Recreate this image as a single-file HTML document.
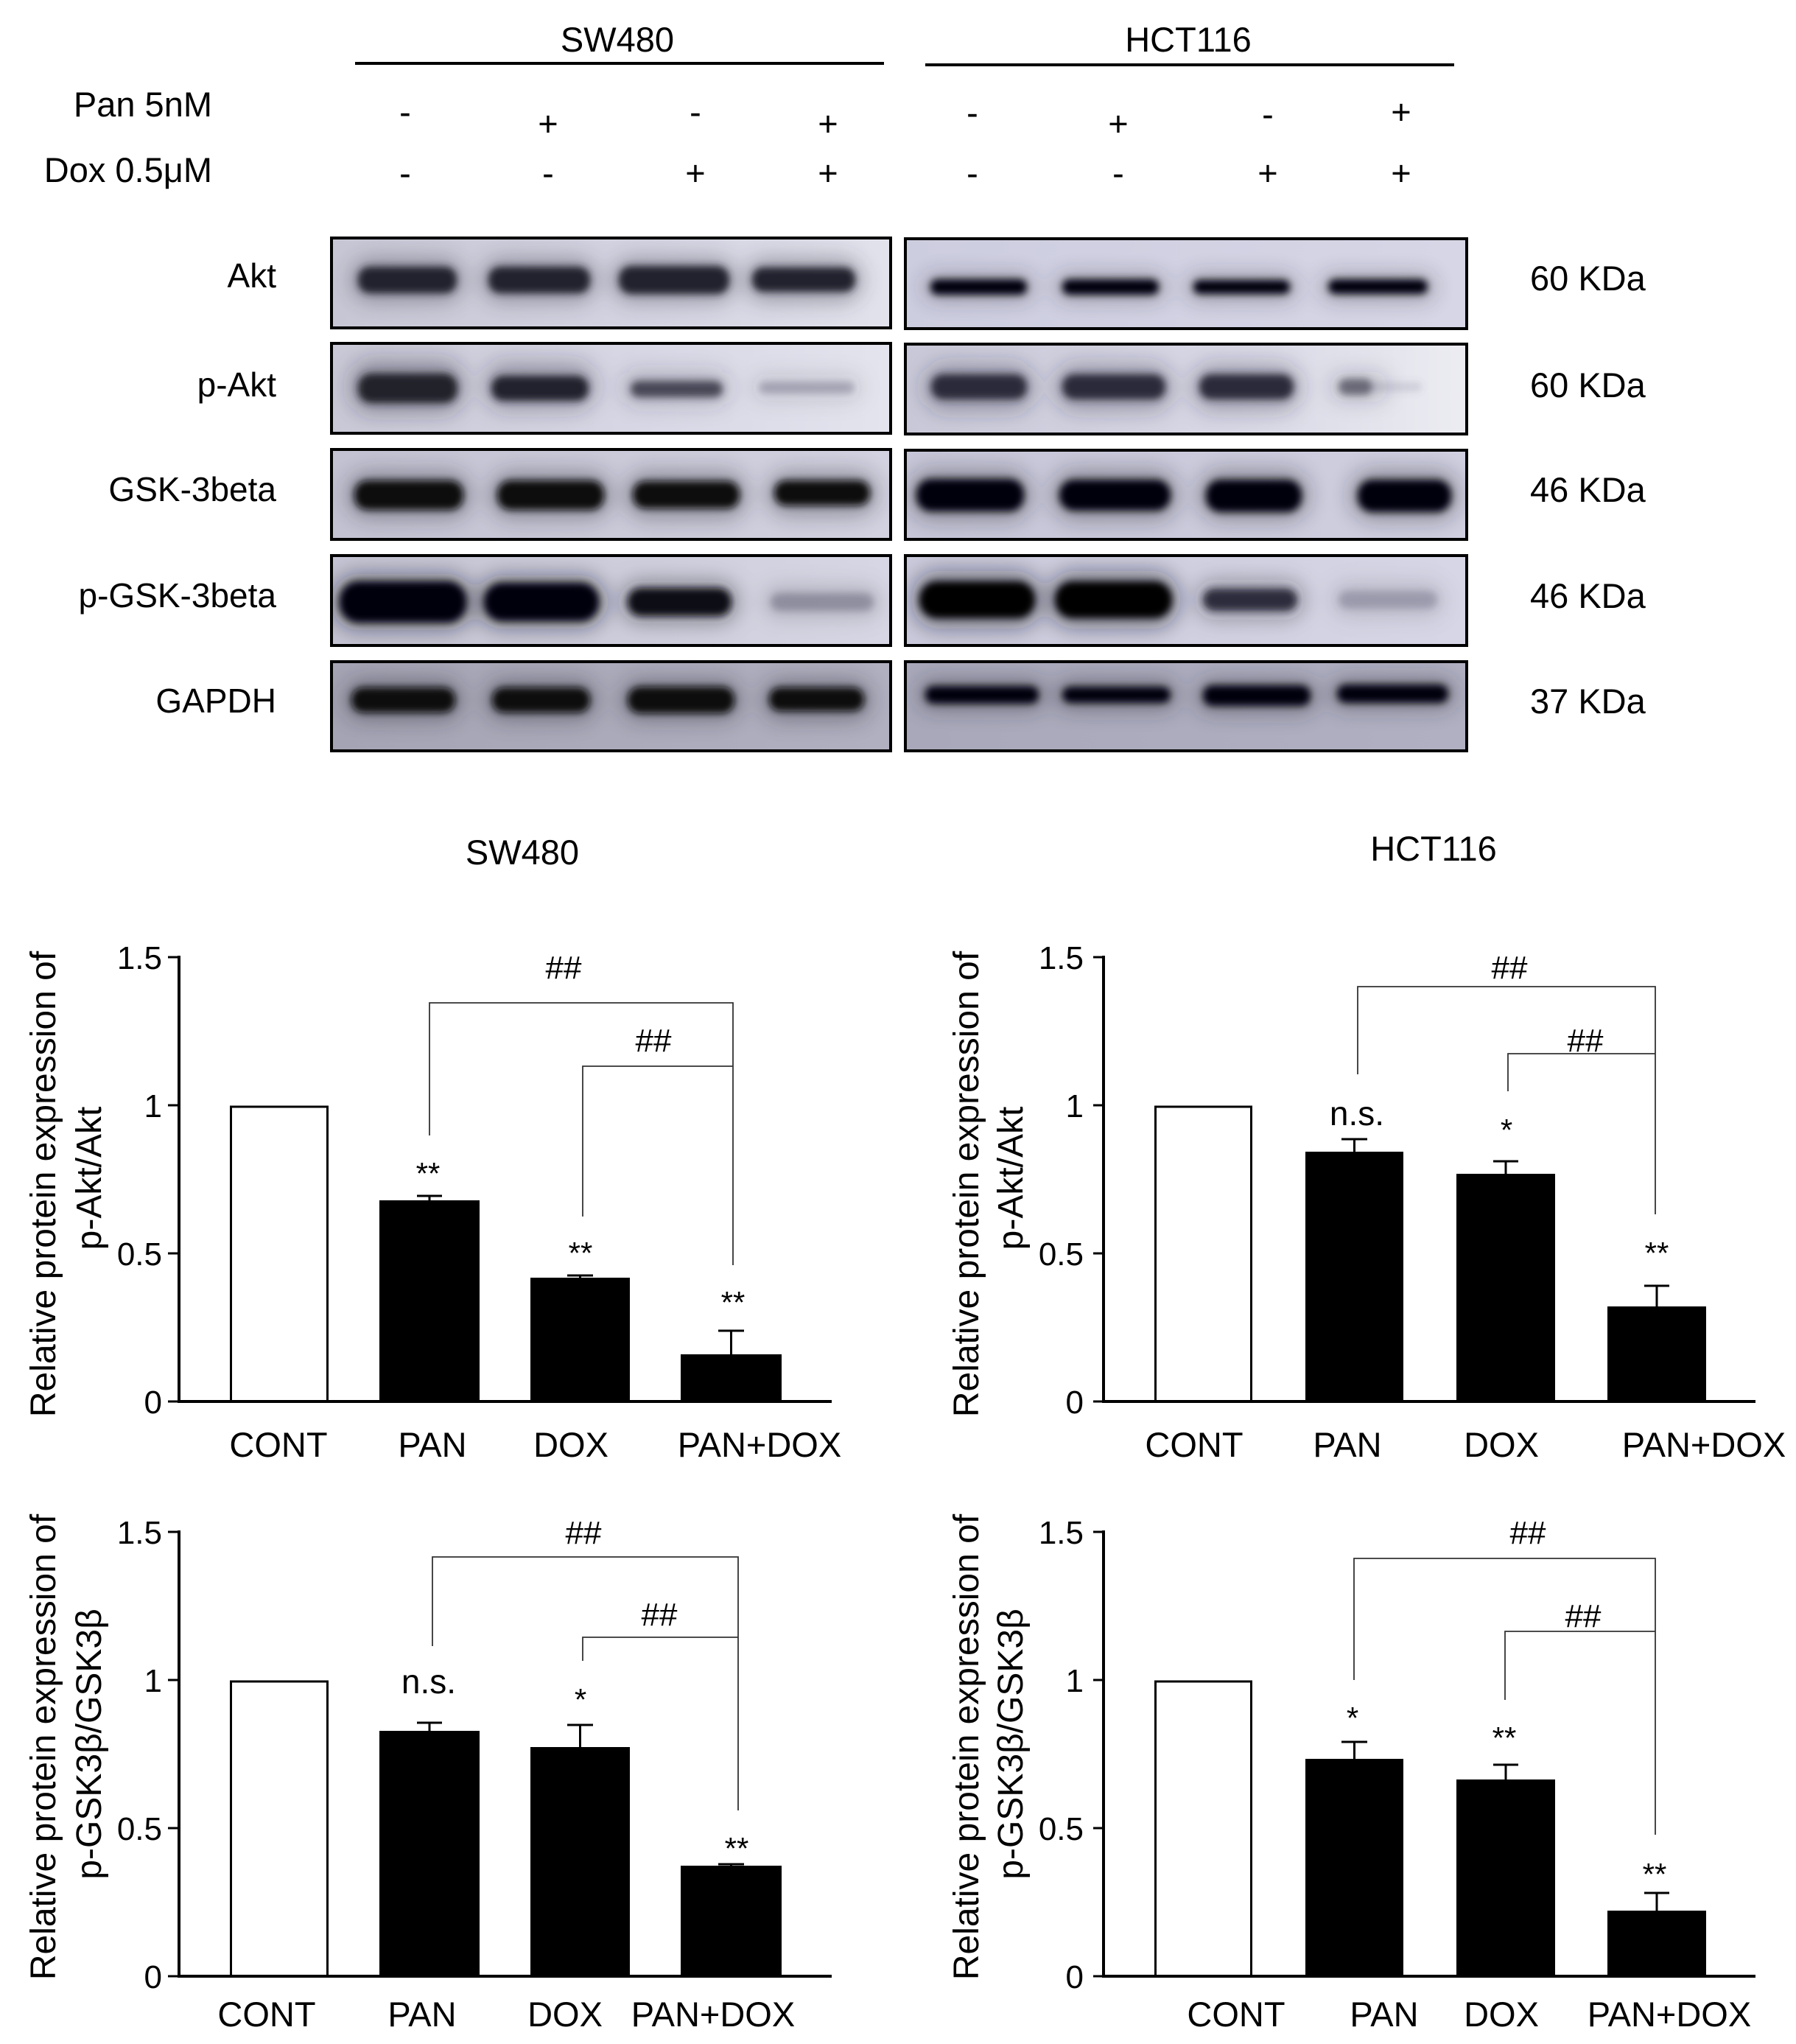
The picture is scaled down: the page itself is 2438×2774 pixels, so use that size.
<!DOCTYPE html>
<html><head><meta charset="utf-8"><style>
html,body{margin:0;padding:0;background:#fff;}
svg{display:block;}
text{font-family:"Liberation Sans",Arial,sans-serif;fill:#000;}
</style></head><body>
<svg width="2438" height="2774" viewBox="0 0 2438 2774" xmlns="http://www.w3.org/2000/svg">
<defs>
<filter id="b1" x="-30%" y="-100%" width="160%" height="300%"><feGaussianBlur stdDeviation="5"/></filter>
<filter id="b2" x="-40%" y="-150%" width="180%" height="400%"><feGaussianBlur stdDeviation="14"/></filter>
<linearGradient id="g1" x1="0" x2="1" y1="0" y2="0"><stop offset="0" stop-color="#c6c6d4"/><stop offset="0.6" stop-color="#d4d4e2"/><stop offset="1" stop-color="#e2e2ec"/></linearGradient>
<linearGradient id="g2" x1="0" x2="1" y1="0" y2="0"><stop offset="0" stop-color="#c8c8d6"/><stop offset="0.6" stop-color="#d8d8e6"/><stop offset="1" stop-color="#e4e4ee"/></linearGradient>
<linearGradient id="g3" x1="0" x2="1" y1="0" y2="0"><stop offset="0" stop-color="#c2c2d2"/><stop offset="1" stop-color="#d2d2e0"/></linearGradient>
<linearGradient id="g4" x1="0" x2="1" y1="0" y2="0"><stop offset="0" stop-color="#c4c4d4"/><stop offset="1" stop-color="#d6d6e4"/></linearGradient>
<linearGradient id="g5" x1="0" x2="1" y1="0" y2="0"><stop offset="0" stop-color="#a4a4b4"/><stop offset="1" stop-color="#b0b0c0"/></linearGradient>
<linearGradient id="h1" x1="0" x2="1" y1="0" y2="0"><stop offset="0" stop-color="#cdcde0"/><stop offset="1" stop-color="#d6d6e6"/></linearGradient>
<linearGradient id="h2" x1="0" x2="1" y1="0" y2="0"><stop offset="0" stop-color="#c8c8d8"/><stop offset="0.6" stop-color="#d8d8e6"/><stop offset="1" stop-color="#ececf2"/></linearGradient>
<linearGradient id="h3" x1="0" x2="1" y1="0" y2="0"><stop offset="0" stop-color="#c6c6d8"/><stop offset="1" stop-color="#cfcfe0"/></linearGradient>
<linearGradient id="h4" x1="0" x2="1" y1="0" y2="0"><stop offset="0" stop-color="#cacadc"/><stop offset="1" stop-color="#d6d6e6"/></linearGradient>
<linearGradient id="h5" x1="0" x2="1" y1="0" y2="0"><stop offset="0" stop-color="#a8a8ba"/><stop offset="1" stop-color="#b0b0c2"/></linearGradient>
<clipPath id="cs1"><rect x="450" y="323" width="759" height="122"/></clipPath>
<clipPath id="cs2"><rect x="450" y="466" width="759" height="122"/></clipPath>
<clipPath id="cs3"><rect x="450" y="610" width="759" height="122"/></clipPath>
<clipPath id="cs4"><rect x="450" y="754" width="759" height="122"/></clipPath>
<clipPath id="cs5"><rect x="450" y="898" width="759" height="121"/></clipPath>
<clipPath id="ch1"><rect x="1229" y="324" width="762" height="122"/></clipPath>
<clipPath id="ch2"><rect x="1229" y="467" width="762" height="122"/></clipPath>
<clipPath id="ch3"><rect x="1229" y="611" width="762" height="121"/></clipPath>
<clipPath id="ch4"><rect x="1229" y="754" width="762" height="122"/></clipPath>
<clipPath id="ch5"><rect x="1229" y="898" width="762" height="121"/></clipPath>
</defs>

<!-- Header -->
<text x="838" y="70" font-size="47" text-anchor="middle">SW480</text>
<line x1="482" y1="86" x2="1200" y2="86" stroke="#000" stroke-width="4"/>
<text x="1613" y="70" font-size="47" text-anchor="middle">HCT116</text>
<line x1="1256" y1="88" x2="1974" y2="88" stroke="#000" stroke-width="4"/>

<text x="288" y="158" font-size="47" text-anchor="end">Pan 5nM</text>
<text x="288" y="247" font-size="47" text-anchor="end">Dox 0.5μM</text>

<g font-size="47" text-anchor="middle">
<text x="550" y="168">-</text>
<text x="744" y="184">+</text>
<text x="944" y="168">-</text>
<text x="1124" y="184">+</text>
<text x="1320" y="169">-</text>
<text x="1518" y="184">+</text>
<text x="1721" y="171">-</text>
<text x="1902" y="168">+</text>
<text x="550" y="251">-</text>
<text x="744" y="251">-</text>
<text x="944" y="251">+</text>
<text x="1124" y="251">+</text>
<text x="1320" y="251">-</text>
<text x="1518" y="251">-</text>
<text x="1721" y="251">+</text>
<text x="1902" y="251">+</text>
</g>

<!-- Row labels -->
<g font-size="46" text-anchor="end">
<text x="375" y="390">Akt</text>
<text x="375" y="538">p-Akt</text>
<text x="375" y="680">GSK-3beta</text>
<text x="375" y="824">p-GSK-3beta</text>
<text x="375" y="967">GAPDH</text>
</g>
<g font-size="47">
<text x="2077" y="394">60 KDa</text>
<text x="2077" y="539">60 KDa</text>
<text x="2077" y="681">46 KDa</text>
<text x="2077" y="825">46 KDa</text>
<text x="2077" y="968">37 KDa</text>
</g>

<!-- SW480 blots -->
<g clip-path="url(#cs1)">
<rect x="450" y="323" width="759" height="122" fill="url(#g1)"/>
<g fill="#2a2a38" opacity="0.35" filter="url(#b2)">
<rect x="476" y="350" width="154" height="60" rx="30"/><rect x="653" y="350" width="158" height="60" rx="30"/><rect x="830" y="350" width="170" height="60" rx="30"/><rect x="1011" y="350" width="160" height="60" rx="30"/>
</g>
<g fill="#23232d" filter="url(#b1)">
<rect x="486" y="362" width="134" height="36" rx="16"/><rect x="663" y="362" width="138" height="36" rx="16"/><rect x="840" y="361" width="150" height="38" rx="17"/><rect x="1021" y="363" width="140" height="33" rx="15"/>
</g>
</g>
<rect x="450" y="323" width="759" height="122" fill="none" stroke="#000" stroke-width="4"/>

<g clip-path="url(#cs2)">
<rect x="450" y="466" width="759" height="122" fill="url(#g2)"/>
<g fill="#2a2a38" filter="url(#b2)">
<rect x="476" y="490" width="154" height="70" rx="30" opacity="0.4"/><rect x="657" y="492" width="152" height="64" rx="30" opacity="0.35"/><rect x="845" y="505" width="145" height="44" rx="20" opacity="0.25"/><rect x="1020" y="508" width="150" height="36" rx="18" opacity="0.12"/>
</g>
<g filter="url(#b1)">
<rect x="486" y="507" width="135" height="40" rx="18" fill="#22222c"/><rect x="667" y="510" width="132" height="34" rx="16" fill="#23232e"/><rect x="856" y="517" width="125" height="22" rx="11" fill="#2c2c3c" opacity="0.8"/><rect x="1030" y="518" width="130" height="16" rx="8" fill="#50506a" opacity="0.35"/>
</g>
</g>
<rect x="450" y="466" width="759" height="122" fill="none" stroke="#000" stroke-width="4"/>

<g clip-path="url(#cs3)">
<rect x="450" y="610" width="759" height="122" fill="url(#g3)"/>
<g fill="#1a1a28" opacity="0.35" filter="url(#b2)">
<rect x="471" y="640" width="168" height="64" rx="30"/><rect x="665" y="640" width="165" height="64" rx="30"/><rect x="849" y="640" width="165" height="64" rx="30"/><rect x="1041" y="640" width="150" height="60" rx="30"/>
</g>
<g fill="#080810" filter="url(#b1)">
<rect x="481" y="652" width="148" height="40" rx="18"/><rect x="675" y="652" width="145" height="40" rx="18"/><rect x="859" y="653" width="145" height="37" rx="17"/><rect x="1051" y="652" width="130" height="34" rx="16"/>
</g>
</g>
<rect x="450" y="610" width="759" height="122" fill="none" stroke="#000" stroke-width="4"/>

<g clip-path="url(#cs4)">
<rect x="450" y="754" width="759" height="122" fill="url(#g4)"/>
<g fill="#14141e" filter="url(#b2)">
<rect x="451" y="779" width="192" height="76" rx="36" opacity="0.45"/><rect x="647" y="781" width="176" height="72" rx="34" opacity="0.45"/><rect x="842" y="788" width="160" height="58" rx="28" opacity="0.35"/><rect x="1036" y="795" width="160" height="44" rx="22" opacity="0.15"/>
</g>
<g filter="url(#b1)">
<rect x="461" y="789" width="172" height="56" rx="26" fill="#050508"/><rect x="657" y="791" width="156" height="52" rx="25" fill="#050508"/><rect x="852" y="798" width="141" height="38" rx="18" fill="#0c0c16"/><rect x="1046" y="805" width="140" height="24" rx="12" fill="#5a5a72" opacity="0.45"/>
</g>
</g>
<rect x="450" y="754" width="759" height="122" fill="none" stroke="#000" stroke-width="4"/>

<g clip-path="url(#cs5)">
<rect x="450" y="898" width="759" height="121" fill="url(#g5)"/>
<g fill="#1a1a26" opacity="0.35" filter="url(#b2)">
<rect x="467" y="922" width="161" height="56" rx="28"/><rect x="658" y="922" width="153" height="56" rx="28"/><rect x="842" y="922" width="165" height="56" rx="28"/><rect x="1034" y="922" width="149" height="56" rx="28"/>
</g>
<g fill="#08080e" filter="url(#b1)">
<rect x="477" y="933" width="141" height="34" rx="16"/><rect x="668" y="933" width="133" height="34" rx="16"/><rect x="852" y="932" width="145" height="36" rx="17"/><rect x="1044" y="933" width="129" height="32" rx="15"/>
</g>
</g>
<rect x="450" y="898" width="759" height="121" fill="none" stroke="#000" stroke-width="4"/>

<!-- HCT116 blots -->
<g clip-path="url(#ch1)">
<rect x="1229" y="324" width="762" height="122" fill="url(#h1)"/>
<g fill="#1a1a28" opacity="0.3" filter="url(#b2)">
<rect x="1253" y="372" width="151" height="36" rx="18"/><rect x="1432" y="372" width="151" height="36" rx="18"/><rect x="1610" y="372" width="151" height="36" rx="18"/><rect x="1793" y="372" width="155" height="36" rx="18"/>
</g>
<g fill="#06060c" filter="url(#b1)">
<rect x="1263" y="379" width="131" height="21" rx="10"/><rect x="1442" y="379" width="131" height="21" rx="10"/><rect x="1620" y="380" width="131" height="19" rx="9"/><rect x="1803" y="379" width="135" height="20" rx="10"/>
</g>
</g>
<rect x="1229" y="324" width="762" height="122" fill="none" stroke="#000" stroke-width="4"/>

<g clip-path="url(#ch2)">
<rect x="1229" y="467" width="762" height="122" fill="url(#h2)"/>
<g fill="#2a2a38" filter="url(#b2)">
<rect x="1254" y="495" width="150" height="62" rx="30" opacity="0.35"/><rect x="1432" y="495" width="160" height="62" rx="30" opacity="0.35"/><rect x="1618" y="495" width="148" height="62" rx="30" opacity="0.35"/><rect x="1805" y="505" width="80" height="40" rx="20" opacity="0.2"/>
</g>
<g filter="url(#b1)">
<rect x="1264" y="508" width="130" height="34" rx="16" fill="#2c2c3a"/><rect x="1442" y="508" width="140" height="34" rx="16" fill="#2c2c3a"/><rect x="1628" y="508" width="128" height="34" rx="16" fill="#2c2c3a"/><rect x="1817" y="514" width="46" height="22" rx="11" fill="#2c2c3a" opacity="0.6"/><rect x="1860" y="519" width="70" height="12" rx="6" fill="#60607a" opacity="0.2"/>
</g>
</g>
<rect x="1229" y="467" width="762" height="122" fill="none" stroke="#000" stroke-width="4"/>

<g clip-path="url(#ch3)">
<rect x="1229" y="611" width="762" height="121" fill="url(#h3)"/>
<g fill="#14141e" opacity="0.35" filter="url(#b2)">
<rect x="1234" y="638" width="166" height="68" rx="32"/><rect x="1428" y="638" width="171" height="68" rx="32"/><rect x="1627" y="638" width="150" height="68" rx="32"/><rect x="1833" y="638" width="147" height="68" rx="32"/>
</g>
<g fill="#050508" filter="url(#b1)">
<rect x="1244" y="650" width="146" height="44" rx="20"/><rect x="1438" y="651" width="151" height="42" rx="20"/><rect x="1637" y="651" width="130" height="44" rx="20"/><rect x="1843" y="651" width="127" height="44" rx="20"/>
</g>
</g>
<rect x="1229" y="611" width="762" height="121" fill="none" stroke="#000" stroke-width="4"/>

<g clip-path="url(#ch4)">
<rect x="1229" y="754" width="762" height="122" fill="url(#h4)"/>
<g fill="#14141e" filter="url(#b2)">
<rect x="1238" y="775" width="177" height="78" rx="36" opacity="0.45"/><rect x="1422" y="775" width="179" height="78" rx="36" opacity="0.45"/><rect x="1623" y="787" width="148" height="54" rx="26" opacity="0.3"/><rect x="1807" y="790" width="154" height="48" rx="24" opacity="0.12"/>
</g>
<g filter="url(#b1)">
<rect x="1248" y="789" width="157" height="50" rx="24" fill="#030306"/><rect x="1432" y="789" width="159" height="50" rx="24" fill="#030306"/><rect x="1633" y="799" width="128" height="30" rx="15" fill="#1a1a28" opacity="0.85"/><rect x="1817" y="802" width="134" height="24" rx="12" fill="#5a5a72" opacity="0.35"/>
</g>
</g>
<rect x="1229" y="754" width="762" height="122" fill="none" stroke="#000" stroke-width="4"/>

<g clip-path="url(#ch5)">
<rect x="1229" y="898" width="762" height="121" fill="url(#h5)"/>
<g fill="#1a1a26" opacity="0.35" filter="url(#b2)">
<rect x="1246" y="922" width="174" height="42" rx="21"/><rect x="1432" y="922" width="167" height="42" rx="21"/><rect x="1623" y="922" width="166" height="46" rx="23"/><rect x="1805" y="920" width="171" height="42" rx="21"/>
</g>
<g fill="#06060c" filter="url(#b1)">
<rect x="1256" y="931" width="154" height="24" rx="11"/><rect x="1442" y="932" width="147" height="22" rx="11"/><rect x="1633" y="930" width="146" height="28" rx="13"/><rect x="1815" y="929" width="151" height="25" rx="12"/>
</g>
</g>
<rect x="1229" y="898" width="762" height="121" fill="none" stroke="#000" stroke-width="4"/>

<!-- Chart titles -->
<text x="709" y="1173" font-size="47" text-anchor="middle">SW480</text>
<text x="1946" y="1168" font-size="47" text-anchor="middle">HCT116</text>

<!-- ============ Chart 1 ============ -->
<g>
<text transform="translate(75,1607) rotate(-90)" font-size="48" text-anchor="middle">Relative protein expression of</text>
<text transform="translate(137,1599) rotate(-90)" font-size="48" text-anchor="middle">p-Akt/Akt</text>
<g font-size="44" text-anchor="end">
<text x="220" y="1315">1.5</text><text x="220" y="1516">1</text><text x="220" y="1717">0.5</text><text x="220" y="1918">0</text>
</g>
<path d="M228 1299H243M228 1500H243M228 1701H243M228 1902H243" stroke="#000" stroke-width="3"/>
<line x1="243" y1="1297" x2="243" y2="1904" stroke="#000" stroke-width="4"/>
<rect x="313.5" y="1502" width="131" height="400" fill="#fff" stroke="#000" stroke-width="3"/>
<rect x="515" y="1629" width="136" height="273" fill="#000"/>
<rect x="720" y="1734" width="135" height="168" fill="#000"/>
<rect x="924" y="1838" width="137" height="64" fill="#000"/>
<path d="M583 1629V1623M566 1623H600M787.5 1734V1731M770 1731H805M992.5 1838V1806M975 1806H1010" stroke="#000" stroke-width="3" fill="none"/>
<line x1="243" y1="1902" x2="1129" y2="1902" stroke="#000" stroke-width="4"/>
<path d="M583 1541V1361H995V1717M791 1651V1447H995" stroke="#333" stroke-width="1.8" fill="none"/>
<g font-size="44" text-anchor="middle">
<text x="765" y="1328">##</text><text x="887" y="1427">##</text>
</g>
<g font-size="42" text-anchor="middle">
<text x="581" y="1607">**</text><text x="788" y="1715">**</text><text x="995" y="1782">**</text>
</g>
<g font-size="47" text-anchor="middle">
<text x="378" y="1977">CONT</text><text x="587" y="1977">PAN</text><text x="775" y="1977">DOX</text><text x="1031" y="1977">PAN+DOX</text>
</g>
</g>

<!-- ============ Chart 2 ============ -->
<g>
<text transform="translate(1328,1607) rotate(-90)" font-size="48" text-anchor="middle">Relative protein expression of</text>
<text transform="translate(1388,1599) rotate(-90)" font-size="48" text-anchor="middle">p-Akt/Akt</text>
<g font-size="44" text-anchor="end">
<text x="1471" y="1315">1.5</text><text x="1471" y="1516">1</text><text x="1471" y="1717">0.5</text><text x="1471" y="1918">0</text>
</g>
<path d="M1484 1299H1498M1484 1500H1498M1484 1701H1498M1484 1902H1498" stroke="#000" stroke-width="3"/>
<line x1="1498" y1="1297" x2="1498" y2="1904" stroke="#000" stroke-width="4"/>
<rect x="1568.5" y="1502" width="130" height="400" fill="#fff" stroke="#000" stroke-width="3"/>
<rect x="1772" y="1563" width="133" height="339" fill="#000"/>
<rect x="1977" y="1593" width="134" height="309" fill="#000"/>
<rect x="2182" y="1773" width="134" height="129" fill="#000"/>
<path d="M1838.5 1563V1546M1821 1546H1856M2044 1593V1576M2027 1576H2061M2249 1773V1745M2232 1745H2266" stroke="#000" stroke-width="3" fill="none"/>
<line x1="1498" y1="1902" x2="2383" y2="1902" stroke="#000" stroke-width="4"/>
<path d="M1843 1458V1339H2247V1648M2047 1481V1430H2247" stroke="#333" stroke-width="1.8" fill="none"/>
<g font-size="44" text-anchor="middle">
<text x="2049" y="1328">##</text><text x="2152" y="1427">##</text>
</g>
<text x="1842" y="1527" font-size="46" text-anchor="middle">n.s.</text>
<g font-size="42" text-anchor="middle">
<text x="2045" y="1548">*</text><text x="2249" y="1715">**</text>
</g>
<g font-size="47" text-anchor="middle">
<text x="1621" y="1977">CONT</text><text x="1829" y="1977">PAN</text><text x="2038" y="1977">DOX</text><text x="2313" y="1977">PAN+DOX</text>
</g>
</g>

<!-- ============ Chart 3 ============ -->
<g>
<text transform="translate(75,2371) rotate(-90)" font-size="48" text-anchor="middle">Relative protein expression of</text>
<text transform="translate(137,2367) rotate(-90)" font-size="48" text-anchor="middle">p-GSK3β/GSK3β</text>
<g font-size="44" text-anchor="end">
<text x="220" y="2095">1.5</text><text x="220" y="2296">1</text><text x="220" y="2497">0.5</text><text x="220" y="2698">0</text>
</g>
<path d="M228 2079H243M228 2280H243M228 2481H243M228 2682H243" stroke="#000" stroke-width="3"/>
<line x1="243" y1="2077" x2="243" y2="2684" stroke="#000" stroke-width="4"/>
<rect x="313.5" y="2282" width="131" height="400" fill="#fff" stroke="#000" stroke-width="3"/>
<rect x="515" y="2349" width="136" height="333" fill="#000"/>
<rect x="720" y="2371" width="135" height="311" fill="#000"/>
<rect x="924" y="2532" width="137" height="150" fill="#000"/>
<path d="M583 2349V2338M566 2338H600M787.5 2371V2341M770 2341H805M992.5 2532V2530M975 2530H1010" stroke="#000" stroke-width="3" fill="none"/>
<line x1="243" y1="2682" x2="1129" y2="2682" stroke="#000" stroke-width="4"/>
<path d="M587 2234V2113H1002V2457M791 2254V2222H1002" stroke="#333" stroke-width="1.8" fill="none"/>
<g font-size="44" text-anchor="middle">
<text x="792" y="2095">##</text><text x="895" y="2206">##</text>
</g>
<text x="582" y="2298" font-size="46" text-anchor="middle">n.s.</text>
<g font-size="42" text-anchor="middle">
<text x="788" y="2321">*</text><text x="1000" y="2523">**</text>
</g>
<g font-size="47" text-anchor="middle">
<text x="362" y="2750">CONT</text><text x="573" y="2750">PAN</text><text x="767" y="2750">DOX</text><text x="968" y="2750">PAN+DOX</text>
</g>
</g>

<!-- ============ Chart 4 ============ -->
<g>
<text transform="translate(1328,2371) rotate(-90)" font-size="48" text-anchor="middle">Relative protein expression of</text>
<text transform="translate(1388,2367) rotate(-90)" font-size="48" text-anchor="middle">p-GSK3β/GSK3β</text>
<g font-size="44" text-anchor="end">
<text x="1471" y="2095">1.5</text><text x="1471" y="2296">1</text><text x="1471" y="2497">0.5</text><text x="1471" y="2698">0</text>
</g>
<path d="M1484 2079H1498M1484 2280H1498M1484 2481H1498M1484 2682H1498" stroke="#000" stroke-width="3"/>
<line x1="1498" y1="2077" x2="1498" y2="2684" stroke="#000" stroke-width="4"/>
<rect x="1568.5" y="2282" width="130" height="400" fill="#fff" stroke="#000" stroke-width="3"/>
<rect x="1772" y="2387" width="133" height="295" fill="#000"/>
<rect x="1977" y="2415" width="134" height="267" fill="#000"/>
<rect x="2182" y="2593" width="134" height="89" fill="#000"/>
<path d="M1838.5 2387V2364M1821 2364H1856M2044 2415V2395M2027 2395H2061M2249 2593V2569M2232 2569H2266" stroke="#000" stroke-width="3" fill="none"/>
<line x1="1498" y1="2682" x2="2383" y2="2682" stroke="#000" stroke-width="4"/>
<path d="M1838 2280V2115H2247V2490M2043 2307V2214H2247" stroke="#333" stroke-width="1.8" fill="none"/>
<g font-size="44" text-anchor="middle">
<text x="2074" y="2095">##</text><text x="2149" y="2208">##</text>
</g>
<g font-size="42" text-anchor="middle">
<text x="1836" y="2346">*</text><text x="2042" y="2373">**</text><text x="2246" y="2558">**</text>
</g>
<g font-size="47" text-anchor="middle">
<text x="1678" y="2750">CONT</text><text x="1879" y="2750">PAN</text><text x="2038" y="2750">DOX</text><text x="2266" y="2750">PAN+DOX</text>
</g>
</g>
</svg>
</body></html>
